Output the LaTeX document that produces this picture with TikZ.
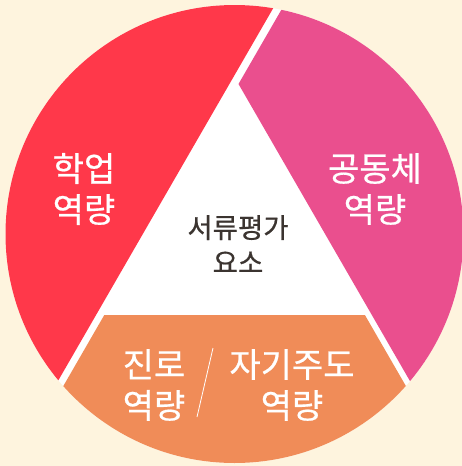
\documentclass[tikz,border=0pt]{standalone}
\usepackage{fontspec}
\newfontfamily\kr[FakeBold=0.6]{Noto Sans CJK KR}
\definecolor{cream}{HTML}{FEF4DE}
\definecolor{cred}{HTML}{FF384A}
\definecolor{cpink}{HTML}{EA4F8E}
\definecolor{corange}{HTML}{F08C58}
\definecolor{ctext}{HTML}{3B3430}
\tikzset{
  wlabel/.style={text=white, font=\kr\fontsize{34}{41}\selectfont, align=center, inner sep=0pt},
  clabel/.style={text=ctext, font=\kr\fontsize{27.5}{35}\selectfont, align=center, inner sep=0pt},
}
\begin{document}
\begin{tikzpicture}[x=1pt,y=-1pt]
\fill[cream] (0,0) rectangle (462,466);
\useasboundingbox (0,0) rectangle (462,466);
\begin{scope}
\clip (234.5,234) circle (229);
\fill[white] (234.5,234) circle (229);
% red sector
\fill[cred] (-10,-10) -- (283.7,-10) -- (0.8,480) -- (-10,480) -- cycle;
% pink sector
\fill[cpink] (292.8,-10) -- (480,-10) -- (480,480) -- (467.1,480) -- (238.5,84) -- cycle;
% orange sector
\fill[corange] (104.3,315) -- (364.9,315) -- (460.1,480) -- (9.1,480) -- cycle;
\end{scope}
\node[wlabel] (hak) at (84,189) {학업\\역량};
\node[wlabel] (gong) at (375,189) {공동체\\역량};
\node[clabel] (center) at (238,244) {서류평가\\요소};
\node[wlabel] (jin) at (154,385) {진로\\역량};
\node[wlabel] (jagi) at (292,385) {자기주도\\역량};
\draw[white, line width=0.8pt] (213,348) -- (197,417);
\end{tikzpicture}
\end{document}
